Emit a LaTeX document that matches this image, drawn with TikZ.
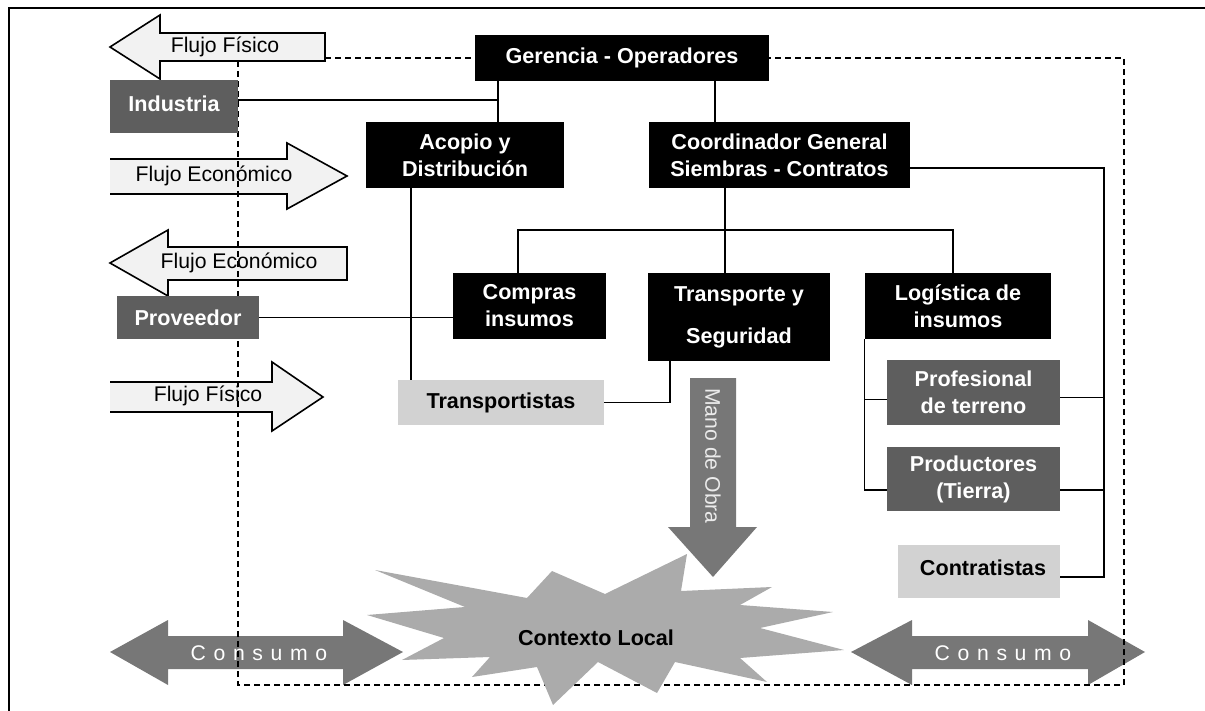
\documentclass[tikz,border=0pt]{standalone}
\usepackage{fontspec}
\setmainfont{Liberation Sans}
\definecolor{boxdark}{HTML}{5E5E5E}
\definecolor{boxlight}{HTML}{D2D2D2}
\definecolor{flowfill}{HTML}{F2F2F2}
\definecolor{arrowgray}{HTML}{777777}
\definecolor{stargray}{HTML}{ABABAB}
\newcommand{\bxfont}{\fontsize{10.8}{13.5}\selectfont\bfseries}
\newcommand{\flfont}{\fontsize{10.6}{13}\selectfont}

\begin{document}
\begin{tikzpicture}[x=0.5pt,y=-0.5pt,
    every node/.style={inner sep=0pt},
    blackbox/.style={fill=black,text=white,font=\bxfont,align=center},
    darkbox/.style={fill=boxdark,text=white,font=\bxfont,align=center},
    lightbox/.style={fill=boxlight,text=black,font=\bxfont,align=center},
    flow/.style={fill=flowfill,draw=black,line width=0.8pt},
    flowtext/.style={font=\flfont},
    wide/.style={fill=arrowgray},
    widetext/.style={text=white,font=\flfont\addfontfeatures{LetterSpace=36}},
    frame/.style={line width=0.75pt,dash pattern=on 3pt off 2pt},
    link/.style={line width=0.75pt}]
    \useasboundingbox (0,0) rectangle (1205,711);
    % Outer frame
    \draw[line width=1pt] (9,711) -- (9,8) -- (1205,8);

    % Flows on the left
    \filldraw[flow] (325,33) -- (160,33) -- (160,15) -- (110,47) -- (160,79) -- (160,61) -- (325,61) -- cycle;
    \node[flowtext] (fisico1) at (225,47) {Flujo Físico};
    \filldraw[flow] (110,159) -- (287,159) -- (287,143) -- (347,176) -- (287,209) -- (287,194) -- (110,194);
    \node[flowtext] (economico1) at (214,176) {Flujo Económico};
    \filldraw[flow] (347,247) -- (168,247) -- (168,230) -- (110,263) -- (168,296) -- (168,280) -- (347,280) -- cycle;
    \node[flowtext] (economico2) at (239,263) {Flujo Económico};
    \filldraw[flow] (110,382) -- (272,382) -- (272,362) -- (323,397) -- (272,431) -- (272,412) -- (110,412);
    \node[flowtext] (fisico2) at (208,396) {Flujo Físico};

    % Consumo arrows
    \fill[wide] (110,652) -- (168,620) -- (168,636) -- (343,636) -- (343,620) -- (403,652) -- (343,685) -- (343,669) -- (168,669) -- (168,685) -- cycle;
    \node[widetext] (consumo1) at (259,653) {Consumo};
    \fill[wide] (851,652) -- (912,620) -- (912,636) -- (1088,636) -- (1088,620) -- (1145,652) -- (1088,685) -- (1088,669) -- (912,669) -- (912,685) -- cycle;
    \node[widetext] (consumo2) at (1003,653) {Consumo};

    % Dashed limit
    \draw[frame] (325,58) -- (1124,58) -- (1124,685) -- (238,685) -- (238,62);

    % Contexto local
    \fill[stargray] (375,570) -- (527,598) -- (552,571) -- (605,594) -- (687,554) -- (681,591)
        -- (772,587) -- (740,605) -- (833,612) -- (760,628) -- (844,650) -- (740,658)
        -- (767,682) -- (675,662) -- (657,693) -- (598,662) -- (553,705) -- (537,667)
        -- (472,677) -- (490,657) -- (402,660) -- (444,638) -- (367,615) -- (465,607) -- cycle;
    \node[font=\bxfont] (contexto) at (596,638) {Contexto Local};

    % Mano de obra
    \fill[wide] (690,378) -- (736,378) -- (736,527) -- (757,527) -- (713,577) -- (668,527) -- (690,527) -- cycle;
    \node[text=white!92!black,font=\flfont,rotate=-90] (mano) at (713,456) {Mano de Obra};

    % Boxes
    \node[blackbox,minimum width=147pt,minimum height=23pt] (gerencia) at (622,58) {Gerencia - Operadores};
    \node[blackbox,minimum width=99pt,minimum height=33pt] (acopio) at (465,155) {Acopio y\\Distribución};
    \node[blackbox,minimum width=130.5pt,minimum height=33pt] (coordinador) at (779.5,155) {Coordinador General\\Siembras - Contratos};
    \node[blackbox,minimum width=76.5pt,minimum height=33pt] (compras) at (529.5,306) {Compras\\insumos};
    \node[blackbox,minimum width=91pt,minimum height=44pt] (transporte) at (739,317) {Transporte y\\[7.5pt]Seguridad};
    \node[blackbox,minimum width=93pt,minimum height=33pt] (logistica) at (958,306) {Logística de\\insumos};
    \node[darkbox,minimum width=64pt,minimum height=26.5pt] (industria) at (174,106.5) {\raisebox{3pt}{Industria}};
    \node[darkbox,minimum width=71pt,minimum height=21.5pt] (proveedor) at (188,317.5) {Proveedor};
    \node[lightbox,minimum width=103pt,minimum height=22.5pt] (transportistas) at (501,402.5) {Transportistas};
    \node[darkbox,minimum width=86.5pt,minimum height=32.5pt] (profesional) at (973.5,392.5) {Profesional\\de terreno};
    \node[darkbox,minimum width=86.5pt,minimum height=32pt] (productores) at (973.5,479) {Productores\\(Tierra)};
    \node[lightbox,minimum width=81pt,minimum height=26.5pt] (contratistas) at (979,571.5) {\hspace*{4pt}\raisebox{4pt}{Contratistas}};

    % Links
    \coordinate (jind) at (498,100);
    \coordinate (jcoo) at (715,100);
    \coordinate (jacp) at (411,300);
    \coordinate (bus1) at (518,230);
    \coordinate (bus2) at (725,230);
    \coordinate (bus3) at (953,230);
    \coordinate (rbus) at (1104,577);
    \draw[link] (industria.east |- jind) -- (jind);
    \draw[link] (gerencia.south -| jind) -- (acopio.north -| jind);
    \draw[link] (gerencia.south -| jcoo) -- (coordinador.north -| jcoo);
    \draw[link] (acopio.south -| jacp) -- (transportistas.north -| jacp);
    \draw[link] (coordinador.south -| bus2) -- (transporte.north -| bus2);
    \draw[link] (compras.north -| bus1) |- (bus3) -- (logistica.north -| bus3);
    \draw[link] (proveedor.east) -- (proveedor.east -| compras.west);
    \draw[link] (transportistas.east) -| ([xshift=-34.5pt]transporte.south);
    \draw[link] (logistica.south west) |- ([yshift=-5.5pt]productores.west);
    \draw[link] ([yshift=-3.5pt]profesional.west -| logistica.south west) -- ([yshift=-3.5pt]profesional.west);
    \draw[link] ([yshift=-6.5pt]coordinador.east) -| (rbus) -- (rbus -| contratistas.east);
    \draw[link] ([yshift=-2.5pt]profesional.east) -- ([yshift=-2.5pt]profesional.east -| rbus);
    \draw[link] ([yshift=-5.5pt]productores.east) -- ([yshift=-5.5pt]productores.east -| rbus);
\end{tikzpicture}
\end{document}
